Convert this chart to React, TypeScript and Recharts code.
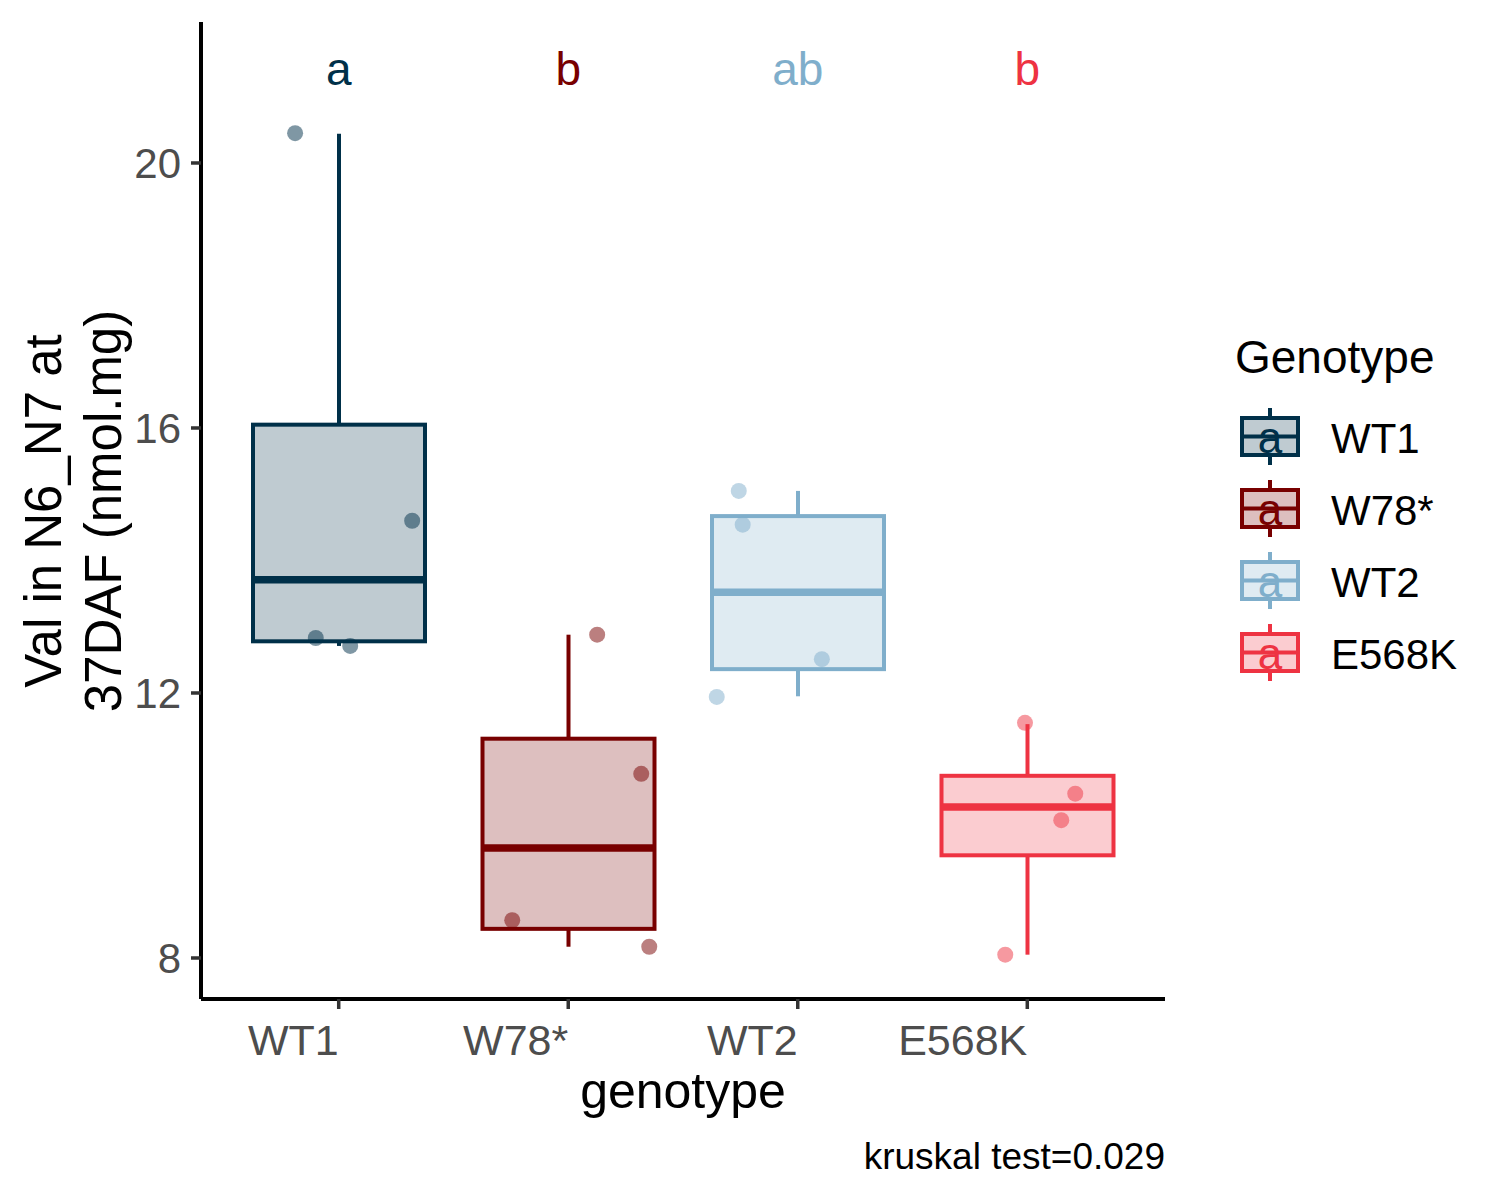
import React from 'react';
import { ComposedChart, Bar, Scatter, XAxis, YAxis } from 'recharts';

const genotypes = ['WT1', 'W78*', 'WT2', 'E568K'];
const colors = ['#003049', '#780000', '#7FAECB', '#EE3342'];
const letters = ['a', 'b', 'ab', 'b'];
const letterY = 21.18;

// box statistics per genotype
const boxMin = [12.71, 8.17, 11.95, 8.05];
const boxQ1 = [12.78, 8.44, 12.36, 9.55];
const boxMedian = [13.71, 9.66, 13.52, 10.28];
const boxQ3 = [16.05, 11.31, 14.67, 10.75];
const boxMax = [20.44, 12.88, 15.05, 11.53];

// raw points and their horizontal jitter (category units)
const pointValues = [
  [20.45, 14.6, 12.83, 12.71],
  [12.88, 10.78, 8.57, 8.17],
  [15.05, 14.54, 12.51, 11.94],
  [11.55, 10.48, 10.08, 8.05],
];
const pointJitter = [
  [-0.19, 0.32, -0.1, 0.05],
  [0.126, 0.318, -0.244, 0.353],
  [-0.257, -0.24, 0.105, -0.353],
  [-0.01, 0.209, 0.148, -0.096],
];

const yTicks = [8, 12, 16, 20];
const caption = 'kruskal test=0.029';

const FONT = '"Liberation Sans", Arial, sans-serif';

const rows = genotypes.map((g, i) => ({
  genotype: g,
  idx: i,
  min: boxMin[i],
  q1: boxQ1[i],
  median: boxMedian[i],
  q3: boxQ3[i],
  max: boxMax[i],
}));

const letterRows = genotypes.map((g, i) => ({ x: i + 1, y: letterY, label: letters[i], idx: i }));

function BoxShape(props: any) {
  const { x, y, width, height } = props;
  const d = props.payload ?? props;
  const c = colors[d.idx];
  const top = Math.min(y, y + height);
  const bottom = Math.max(y, y + height);
  const toY = (v: number) => top + ((d.max - v) / (d.max - d.min)) * (bottom - top);
  const cx = x + width / 2;
  return (
    <g>
      <line x1={cx} x2={cx} y1={top} y2={toY(d.q3)} stroke={c} strokeWidth={4} />
      <line x1={cx} x2={cx} y1={toY(d.q1)} y2={bottom} stroke={c} strokeWidth={4} />
      <rect
        x={x}
        y={toY(d.q3)}
        width={width}
        height={toY(d.q1) - toY(d.q3)}
        fill={c}
        fillOpacity={0.25}
        stroke={c}
        strokeWidth={4}
      />
      <line x1={x} x2={x + width} y1={toY(d.median)} y2={toY(d.median)} stroke={c} strokeWidth={7.5} />
    </g>
  );
}

function LetterShape(props: any) {
  const d = props.payload ?? props;
  return (
    <text x={props.cx} y={props.cy} textAnchor="middle" fontSize={46} fill={colors[d.idx]} fontFamily={FONT}>
      {d.label}
    </text>
  );
}

function XTick(props: any) {
  const { x, y, payload } = props;
  return (
    <text x={x} y={y} dy="0.71em" textAnchor="end" fontSize={43} fill="#4D4D4D" fontFamily={FONT}>
      {genotypes[payload.value - 1]}
    </text>
  );
}

function Overlay() {
  return (
    <svg
      width={1500}
      height={1200}
      style={{ position: 'absolute', left: 0, top: 0, pointerEvents: 'none' }}
      fontFamily={FONT}
    >
      <text transform="translate(61,511) rotate(-90)" textAnchor="middle" fontSize={51} fill="#000">
        Val in N6_N7 at
      </text>
      <text transform="translate(121,511) rotate(-90)" textAnchor="middle" fontSize={51} fill="#000">
        37DAF (nmol.mg)
      </text>
      <text x={683} y={1108} textAnchor="middle" fontSize={50} fill="#000">
        genotype
      </text>
      <text x={1165} y={1169} textAnchor="end" fontSize={37} fill="#000">
        {caption}
      </text>
      <text x={1235} y={373} fontSize={46} fill="#000">
        Genotype
      </text>
      {genotypes.map((g, i) => {
        const top = 418 + 72 * i;
        const c = colors[i];
        return (
          <g key={g}>
            <line x1={1270} x2={1270} y1={top - 10} y2={top + 47} stroke={c} strokeWidth={4} />
            <rect x={1242} y={top} width={56} height={37} fill="#fff" />
            <rect x={1242} y={top} width={56} height={37} fill={c} fillOpacity={0.25} stroke={c} strokeWidth={4} />
            <line x1={1242} x2={1298} y1={top + 18.5} y2={top + 18.5} stroke={c} strokeWidth={4} />
            <text x={1270} y={top + 35} textAnchor="middle" fontSize={44} fill={c}>
              a
            </text>
            <text x={1331} y={top + 35} fontSize={42} fill="#000">
              {g}
            </text>
          </g>
        );
      })}
    </svg>
  );
}

export default function App() {
  return (
    <div style={{ position: 'relative', width: 1500, height: 1200, background: '#fff', fontFamily: FONT }}>
      <style>{'body{margin:0}'}</style>
      <ComposedChart width={1500} height={1200} data={rows} margin={{ top: 22, right: 335, bottom: 131, left: 121 }}>
        <XAxis xAxisId="cat" dataKey="genotype" type="category" hide height={0} padding={{ left: 23, right: 23 }} />
        <XAxis
          xAxisId="num"
          dataKey="x"
          type="number"
          domain={[0.4, 4.6]}
          ticks={[1, 2, 3, 4]}
          allowDataOverflow
          height={70}
          tick={<XTick />}
          tickSize={10}
          tickMargin={15}
          tickLine={{ stroke: '#333333', strokeWidth: 3.5 }}
          axisLine={{ stroke: '#000', strokeWidth: 4 }}
        />
        <YAxis
          dataKey="y"
          type="number"
          domain={[7.381, 22.128]}
          ticks={yTicks}
          allowDataOverflow
          width={80}
          tickSize={10}
          tickMargin={10}
          tick={{ fill: '#4D4D4D', fontSize: 42, fontFamily: FONT }}
          tickLine={{ stroke: '#333333', strokeWidth: 3.5 }}
          axisLine={{ stroke: '#000', strokeWidth: 4 }}
        />
        <Bar
          xAxisId="cat"
          dataKey={(d: any) => [d.min, d.max]}
          barSize={172}
          shape={<BoxShape />}
          isAnimationActive={false}
        />
        {genotypes.map((g, i) => (
          <Scatter
            key={g}
            xAxisId="num"
            data={pointValues[i].map((v, j) => ({ x: i + 1 + pointJitter[i][j], y: v }))}
            shape={(p: any) => <circle cx={p.cx} cy={p.cy} r={8} fill={colors[i]} fillOpacity={0.5} />}
            isAnimationActive={false}
          />
        ))}
        <Scatter xAxisId="num" data={letterRows} shape={<LetterShape />} isAnimationActive={false} />
      </ComposedChart>
      <Overlay />
    </div>
  );
}
